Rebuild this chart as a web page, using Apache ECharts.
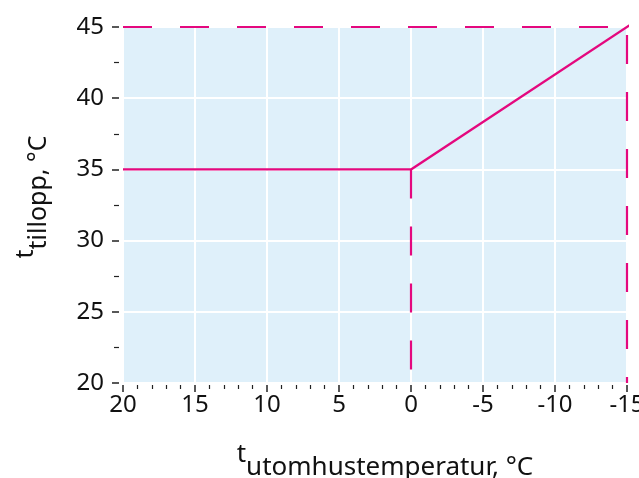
<!DOCTYPE html>
<html>
<head>
<meta charset="utf-8">
<script src="https://cdn.jsdelivr.net/npm/echarts@6/dist/echarts.min.js"></script>
<style>
html,body{margin:0;padding:0;background:#fff;}
#chart{width:639px;height:478px;}
</style>
</head>
<body>
<div id="chart"></div>
<script>
// Data
const supplyX = [20, 0, -16];
const supplyY = [35, 35, 45.67];
const guideZeroX = [0, 0];
const guideZeroY = [35, 20];
const guideMaxX = [-15, -15];
const guideMaxY = [45, 20];
const guideTopX = [20, -15];
const guideTopY = [45, 45];
const xMin = -15, xMax = 20, xStep = 5;
const yMin = 20, yMax = 45, yStep = 5;

const MAG = '#E4087E';
const FONT = 'Noto Sans';
const pairs = (xs, ys) => xs.map((x, i) => [x, ys[i]]);

const chart = echarts.init(document.getElementById('chart'), null, {renderer: 'canvas'});
chart.setOption({
  animation: false,
  grid: {left: 123, right: 12, top: 27, bottom: 95, show: true, backgroundColor: '#DFF0FA', borderWidth: 0,
         containLabel: false, outerBoundsMode: 'none'},
  xAxis: {
    type: 'value', inverse: true, min: xMin, max: xMax, interval: xStep,
    offset: 2,
    axisLine: {show: false, onZero: false},
    axisTick: {show: true, length: 7, lineStyle: {color: '#222', width: 1.5}},
    minorTick: {show: true, splitNumber: 5, length: 4, lineStyle: {color: '#222', width: 1.2}},
    splitLine: {show: true, lineStyle: {color: '#fff', width: 2}},
    axisLabel: {fontFamily: FONT, fontSize: 24, color: '#111', margin: 8},
    name: '{t|t}{s|utomhustemperatur, °C}',
    nameLocation: 'middle', nameGap: 57,
    nameTextStyle: {
      fontFamily: FONT, color: '#111', padding: [0, 0, 0, 20],
      rich: {
        t: {fontFamily: FONT, fontSize: 26, color: '#111', verticalAlign: 'top'},
        s: {fontFamily: FONT, fontSize: 26, color: '#111', padding: [13, 0, 0, 0]}
      }
    }
  },
  yAxis: {
    type: 'value', min: yMin, max: yMax, interval: yStep,
    offset: 4,
    axisLine: {show: false, onZero: false},
    axisTick: {show: true, length: 7, lineStyle: {color: '#222', width: 1.5}},
    minorTick: {show: true, splitNumber: 2, length: 5, lineStyle: {color: '#222', width: 1.2}},
    splitLine: {show: true, lineStyle: {color: '#fff', width: 2}},
    axisLabel: {fontFamily: FONT, fontSize: 24, color: '#111', margin: 15},
    name: '{t|t}{s|tillopp, °C}',
    nameLocation: 'middle', nameGap: 68,
    nameTextStyle: {
      fontFamily: FONT, color: '#111', padding: [0, 0, 0, 16],
      rich: {
        t: {fontFamily: FONT, fontSize: 25, color: '#111', verticalAlign: 'top'},
        s: {fontFamily: FONT, fontSize: 25, color: '#111', padding: [13, 0, 0, 0]}
      }
    }
  },
  series: [
    {type: 'line', data: pairs(guideTopX, guideTopY), symbol: 'none', silent: true,
     lineStyle: {color: MAG, width: 2.2, type: [29, 28]}},
    {type: 'line', data: pairs(guideZeroX, guideZeroY), symbol: 'none', silent: true,
     lineStyle: {color: MAG, width: 2.2, type: [29, 28]}},
    {type: 'line', data: pairs(guideMaxX, guideMaxY), symbol: 'none', silent: true,
     lineStyle: {color: MAG, width: 2.2, type: [29, 28], dashOffset: 49}},
    {type: 'line', data: pairs(supplyX, supplyY), symbol: 'none', silent: true, clip: false,
     lineStyle: {color: MAG, width: 2.4}}
  ]
});
</script>
</body>
</html>
